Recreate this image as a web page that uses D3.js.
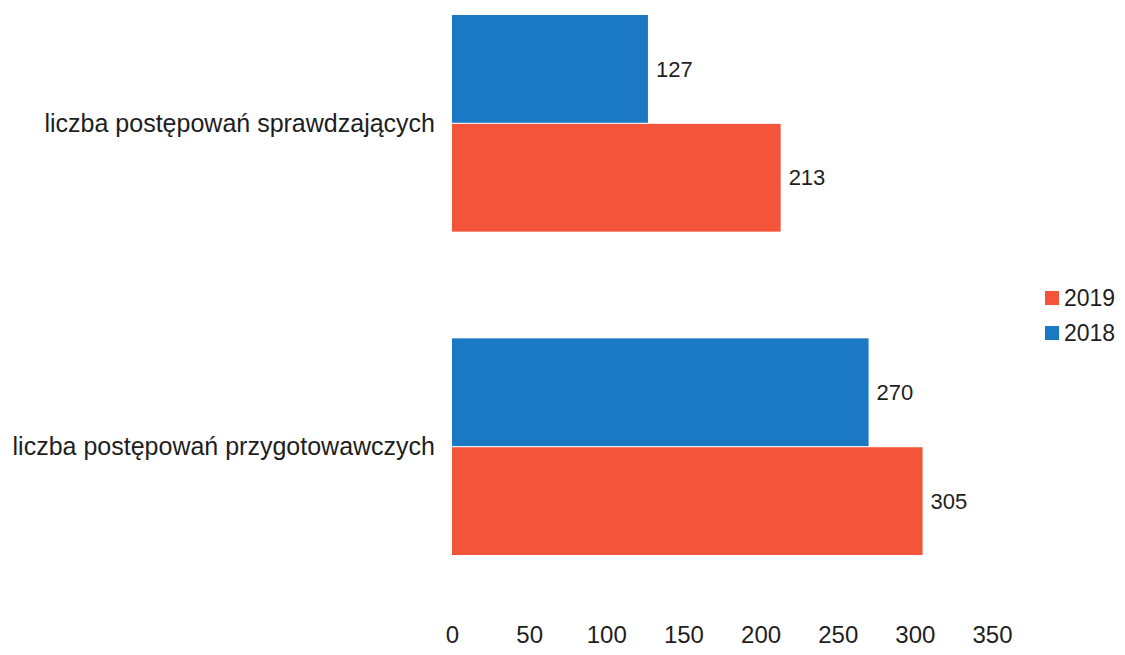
<!DOCTYPE html>
<html>
<head>
<meta charset="utf-8">
<script src="https://cdn.jsdelivr.net/npm/d3@7"></script>
<style>
    body { margin: 0; background: #fff; }
    text { font-family: "Liberation Sans", Arial, sans-serif; fill: #1e1e1e; }
</style>
</head>
<body>
<script>
//chart data
var categories = ["liczba postępowań sprawdzających", "liczba postępowań przygotowawczych"];
var years = ["2018", "2019"];
var values2018 = [127, 270];
var values2019 = [213, 305];
var xTicks = [0, 50, 100, 150, 200, 250, 300, 350];
var legendYears = ["2019", "2018"];

var w = 1125, h = 655;
var colors = { "2018": "#1b78c3", "2019": "#f4553a" };

//build rows for bars
var rows = [];
categories.forEach(function(c, i){
    rows.push({ cat: c, year: "2018", value: values2018[i] });
    rows.push({ cat: c, year: "2019", value: values2019[i] });
});

var svg = d3.select("body")
    .append("svg")
    .attr("width", w)
    .attr("height", h);

//x scale
var x = d3.scaleLinear()
    .domain([0, 350])
    .range([452, 992]);

//category scale
var y = d3.scaleBand()
    .domain(categories)
    .range([15, 555])
    .paddingInner(0.33)
    .paddingOuter(0);

//series scale inside each category
var ySub = d3.scaleBand()
    .domain(years)
    .range([0, y.bandwidth()])
    .paddingInner(0.01);

//bars
svg.selectAll(".bar")
    .data(rows)
    .enter()
    .append("rect")
    .attr("class", "bar")
    .attr("x", x(0))
    .attr("y", function(d){ return y(d.cat) + ySub(d.year); })
    .attr("width", function(d){ return x(d.value) - x(0); })
    .attr("height", ySub.bandwidth())
    .style("fill", function(d){ return colors[d.year]; });

//value labels
svg.selectAll(".val")
    .data(rows)
    .enter()
    .append("text")
    .attr("class", "val")
    .attr("x", function(d){ return x(d.value) + 8; })
    .attr("y", function(d){ return y(d.cat) + ySub(d.year) + ySub.bandwidth() / 2; })
    .attr("dy", "0.35em")
    .style("font-size", "22px")
    .text(function(d){ return d.value; });

//category labels
svg.selectAll(".cat")
    .data(categories)
    .enter()
    .append("text")
    .attr("class", "cat")
    .attr("text-anchor", "end")
    .attr("x", x(0) - 17)
    .attr("y", function(d){ return y(d) + y.bandwidth() / 2; })
    .attr("dy", "0.35em")
    .style("font-size", "25px")
    .text(function(d){ return d; });

//x axis
var xAxis = d3.axisBottom(x)
    .tickValues(xTicks)
    .tickSize(0)
    .tickPadding(0);

var axis = svg.append("g")
    .attr("transform", "translate(0, 626)")
    .call(xAxis);
axis.select(".domain").remove();
axis.selectAll("text")
    .style("font-size", "24px")
    .style("font-family", "'Liberation Sans', Arial, sans-serif")
    .attr("fill", "#1e1e1e");

//legend
var legend = svg.selectAll(".legend")
    .data(legendYears)
    .enter()
    .append("g")
    .attr("class", "legend")
    .attr("transform", function(d, i){ return "translate(1045," + (298 + i * 35) + ")"; });

legend.append("rect")
    .attr("x", 0)
    .attr("y", -7)
    .attr("width", 14)
    .attr("height", 14)
    .style("fill", function(d){ return colors[d]; });

legend.append("text")
    .attr("x", 19)
    .attr("y", 0)
    .attr("dy", "0.35em")
    .style("font-size", "23px")
    .text(function(d){ return d; });
</script>
</body>
</html>
